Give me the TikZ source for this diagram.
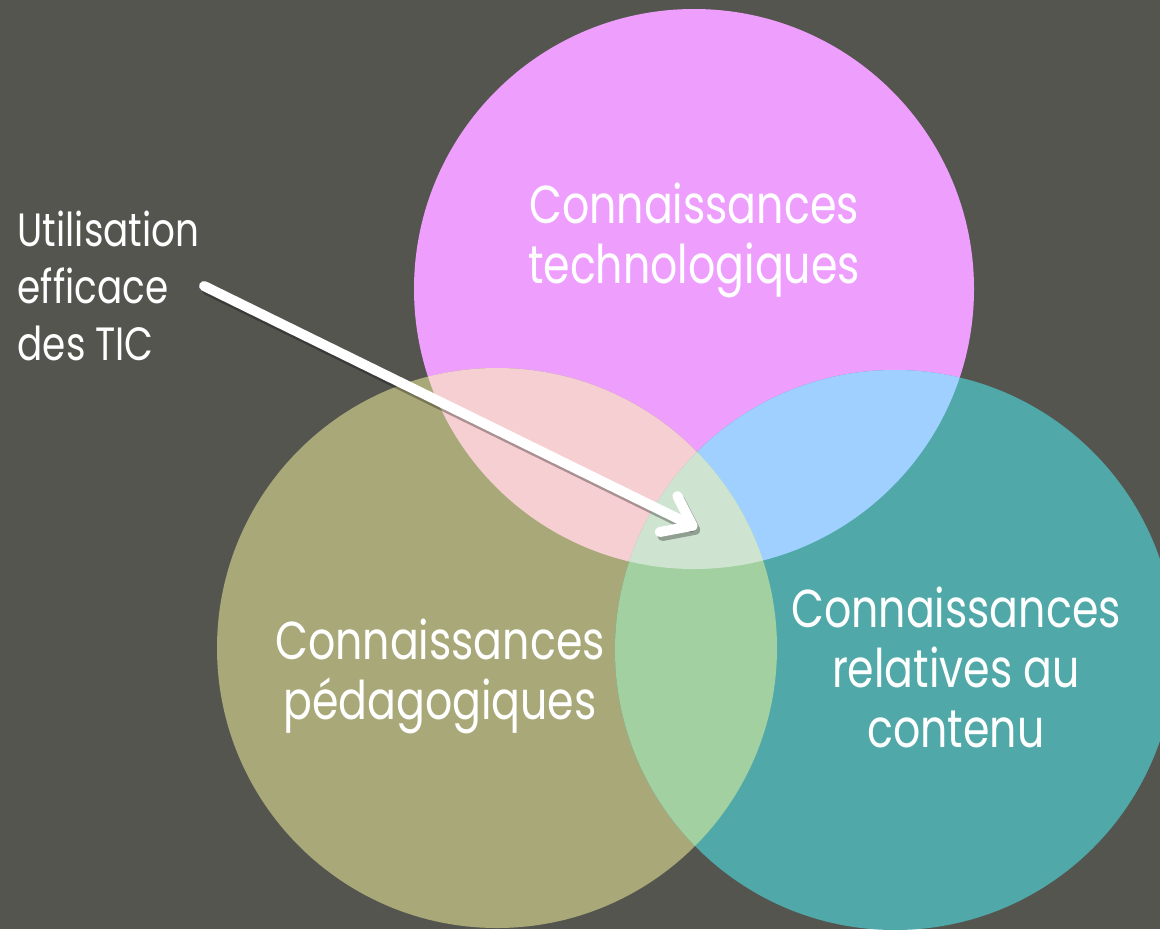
\documentclass[tikz,border=0pt]{standalone}
\usepackage{fontspec}
\setmainfont{Poppins}[FakeStretch=0.8]
\usepackage{tikz}
\usetikzlibrary{arrows.meta}
\definecolor{fond}{HTML}{555550}
\definecolor{techno}{HTML}{EE9FFE}
\definecolor{pedago}{HTML}{A8A878}
\definecolor{contenu}{HTML}{50A8A8}
\definecolor{technopedago}{HTML}{F5CFD2}
\definecolor{technocontenu}{HTML}{A0D0FF}
\definecolor{pedagocontenu}{HTML}{A3D0A0}
\definecolor{centre}{HTML}{CFE4D0}
\tikzset{
	domaine/.style={text=white, align=center, font=\fontsize{40}{45}\selectfont},
	fleche/.style={line width=7.5pt, line cap=round, -{Straight Barb[length=20pt, width=30pt, line cap=round, line join=round]}}
}

\begin{document}
\begin{tikzpicture}[x=0.75pt, y=-0.75pt]
		% Fond et cercles:
		\fill[fond] (0, 0) rectangle (1160, 929);
		\useasboundingbox (0, 0) rectangle (1160, 929);
		\fill[techno] (694, 289) circle (210pt);
		\fill[pedago] (497, 648) circle (210pt);
		\fill[contenu] (895, 650) circle (210pt);
		\begin{scope}
			\clip (694, 289) circle (210pt);
			\fill[technopedago] (497, 648) circle (210pt);
			\fill[technocontenu] (895, 650) circle (210pt);
		\end{scope}
		\begin{scope}
			\clip (497, 648) circle (210pt);
			\fill[pedagocontenu] (895, 650) circle (210pt);
			\clip (895, 650) circle (210pt);
			\fill[centre] (694, 289) circle (210pt);
		\end{scope}
		% Textes:
		\node[domaine](N1) at (694, 240){Connaissances\\technologiques};
		\node[domaine](N2) at (440, 676){Connaissances\\pédagogiques};
		\node[domaine](N3) at (956, 667){Connaissances\\relatives au\\contenu};
		\node[text=white, align=left, anchor=west, font=\fontsize{35}{42.75}\selectfont](N4) at (13, 286){Utilisation\\efficace\\des TIC};
		\coordinate (N5) at (697, 528);
		% Fleche:
		\draw[fleche, black, opacity=0.3] ([xshift=2pt, yshift=-3pt]N4.east) -- ([xshift=2pt, yshift=-3pt]N5);
		\draw[fleche, white] (N4.east) -- (N5);
	\end{tikzpicture}
\end{document}
